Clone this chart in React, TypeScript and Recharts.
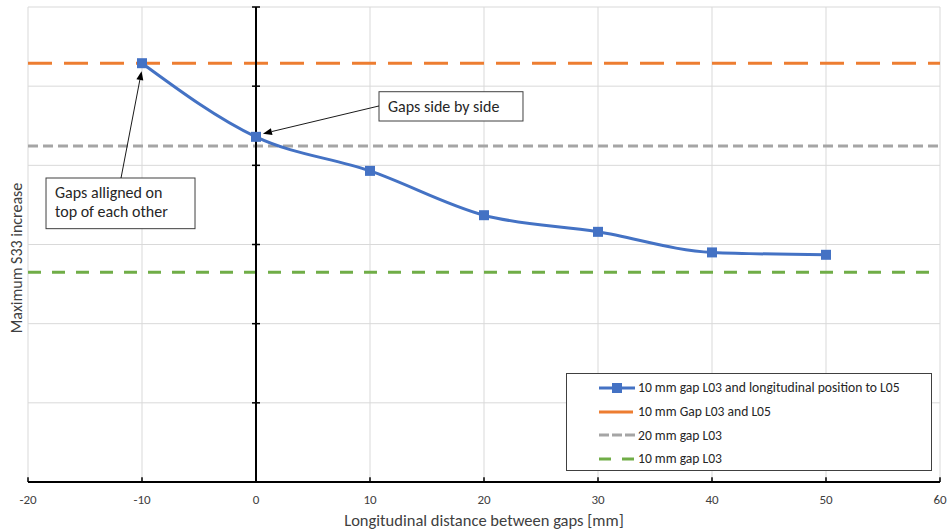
import React from "react";
import { CartesianGrid, Line, LineChart, ReferenceArea, ReferenceLine, XAxis, YAxis } from "recharts";

// longitudinal distance between gaps [mm]
const gapPositions = [-10, 0, 10, 20, 30, 40, 50];
// maximum S33 increase (relative, no scale shown on the axis)
const s33Increase = [5.29, 4.36, 3.93, 3.37, 3.16, 2.9, 2.87];

const xTicks = [-20, -10, 0, 10, 20, 30, 40, 50, 60];
const yTicks = [0, 1, 2, 3, 4, 5, 6];

const level10GapL03L05 = 5.29;
const level20GapL03 = 4.245;
const level10GapL03 = 2.65;

const seriesNames = [
  "10 mm gap L03 and longitudinal position to L05",
  "10 mm Gap L03 and L05",
  "20 mm gap L03",
  "10 mm gap L03",
];

const colors = { blue: "#4472C4", orange: "#ED7D31", gray: "#A5A5A5", green: "#70AD47" };
const font = "Carlito, Lato, 'Open Sans', sans-serif";

const data = gapPositions.map((x, i) => ({ x, s33: s33Increase[i] }));

function SquareDot(props: any) {
  const { cx, cy } = props;
  if (cx == null || cy == null) return null;
  return <rect x={cx - 5} y={cy - 5} width={10} height={10} fill={colors.blue} />;
}

function Arrow(props: any) {
  const { x1, y1, x2, y2 } = props;
  const ang = Math.atan2(y2 - y1, x2 - x1);
  const len = 9;
  const w = 3.5;
  const bx = x2 - len * Math.cos(ang);
  const by = y2 - len * Math.sin(ang);
  const px = -Math.sin(ang) * w;
  const py = Math.cos(ang) * w;
  return (
    <g>
      <line x1={x1} y1={y1} x2={bx} y2={by} stroke="#000" strokeWidth={0.9} />
      <polygon points={`${x2},${y2} ${bx + px},${by + py} ${bx - px},${by - py}`} fill="#000" />
    </g>
  );
}

function noteBox(lines: string[]) {
  return (props: any) => {
    const { x, y, width, height } = props;
    return (
      <g>
        <rect x={x} y={y} width={width} height={height} fill="#fff" stroke="#404040" strokeWidth={1} />
        {lines.map((t, i) => (
          <text key={t} x={x + 9} y={y + 20 + i * 19} fontSize={16} fill="#262626" fontFamily={font}>
            {t}
          </text>
        ))}
      </g>
    );
  };
}

function LegendSample({ color, dash, marker }: { color: string; dash?: string; marker?: boolean }) {
  return (
    <svg width={40} height={12} style={{ display: "block" }}>
      <line x1={2} y1={6} x2={38} y2={6} stroke={color} strokeWidth={3} strokeDasharray={dash} />
      {marker && <rect x={15} y={1} width={10} height={10} fill={color} />}
    </svg>
  );
}

export default function App() {
  const legendRows = [
    { name: seriesNames[0], color: colors.blue, marker: true },
    { name: seriesNames[1], color: colors.orange, dash: "34 2" },
    { name: seriesNames[2], color: colors.gray, dash: "10 3" },
    { name: seriesNames[3], color: colors.green, dash: "12 11" },
  ];

  return (
    <div style={{ position: "absolute", left: 0, top: 0, width: 948, height: 530, background: "#fff", fontFamily: font }}>
      <LineChart width={948} height={530} data={data} margin={{ top: 7, right: 8, left: 28, bottom: 0 }}>
        <CartesianGrid stroke="#d9d9d9" strokeWidth={1} />
        <XAxis
          type="number"
          dataKey="x"
          domain={[-20, 60]}
          ticks={xTicks}
          height={48}
          tickLine={false}
          tickMargin={7}
          axisLine={{ stroke: "#000", strokeWidth: 2 }}
          tick={{ fontSize: 13, fill: "#404040", fontFamily: font }}
          label={{
            value: "Longitudinal distance between gaps [mm]",
            position: "insideBottom",
            offset: 4,
            fontSize: 16.5,
            fill: "#404040",
            fontFamily: font,
          }}
        />
        <YAxis hide type="number" domain={[0, 6]} ticks={yTicks} />
        <ReferenceLine y={level10GapL03L05} stroke={colors.orange} strokeWidth={3} strokeDasharray="24 12" />
        <ReferenceLine y={level20GapL03} stroke={colors.gray} strokeWidth={3} strokeDasharray="10 5" />
        <ReferenceLine y={level10GapL03} stroke={colors.green} strokeWidth={3} strokeDasharray="13 11" />
        <ReferenceLine x={0} stroke="#000" strokeWidth={2} />
        {yTicks.map((v) => (
          <ReferenceLine
            key={"yt" + v}
            segment={[
              { x: -0.35, y: v },
              { x: 0.35, y: v },
            ]}
            stroke="#000"
            strokeWidth={1.5}
          />
        ))}
        {xTicks.map((v) => (
          <ReferenceLine
            key={"xt" + v}
            segment={[
              { x: v, y: 0 },
              { x: v, y: 0.06 },
            ]}
            stroke="#000"
            strokeWidth={1.5}
          />
        ))}
        <Line
          type="monotone"
          dataKey="s33"
          name={seriesNames[0]}
          stroke={colors.blue}
          strokeWidth={3}
          dot={<SquareDot />}
          activeDot={false}
          isAnimationActive={false}
        />
        <ReferenceLine
          segment={[
            { x: 10.79, y: 4.75 },
            { x: 0.61, y: 4.4 },
          ]}
          shape={Arrow}
        />
        <ReferenceLine
          segment={[
            { x: -11.84, y: 3.84 },
            { x: -10.04, y: 5.19 },
          ]}
          shape={Arrow}
        />
        <ReferenceArea x1={10.79} x2={23.42} y1={4.56} y2={4.93} shape={noteBox(["Gaps side by side"])} />
        <ReferenceArea
          x1={-18.42}
          x2={-5.35}
          y1={3.2}
          y2={3.84}
          shape={noteBox(["Gaps alligned on", "top of each other"])}
        />
      </LineChart>

      <div
        style={{
          position: "absolute",
          left: 17,
          top: 258,
          transform: "translate(-50%, -50%) rotate(-90deg)",
          whiteSpace: "nowrap",
          fontSize: 16,
          lineHeight: "18px",
          color: "#404040",
          width: "max-content",
        }}
      >
        Maximum S33 increase
      </div>

      <div
        style={{
          position: "absolute",
          left: 566,
          top: 373,
          width: 364,
          height: 94,
          border: "1px solid #404040",
          background: "#fff",
          boxSizing: "content-box",
          paddingTop: 2,
        }}
      >
        {legendRows.map((r) => (
          <div key={r.name} style={{ display: "flex", alignItems: "center", height: 23.7, paddingLeft: 30 }}>
            <LegendSample color={r.color} dash={r.dash} marker={r.marker} />
            <span style={{ fontSize: 13.6, color: "#262626", marginLeft: 1 }}>{r.name}</span>
          </div>
        ))}
      </div>
    </div>
  );
}
